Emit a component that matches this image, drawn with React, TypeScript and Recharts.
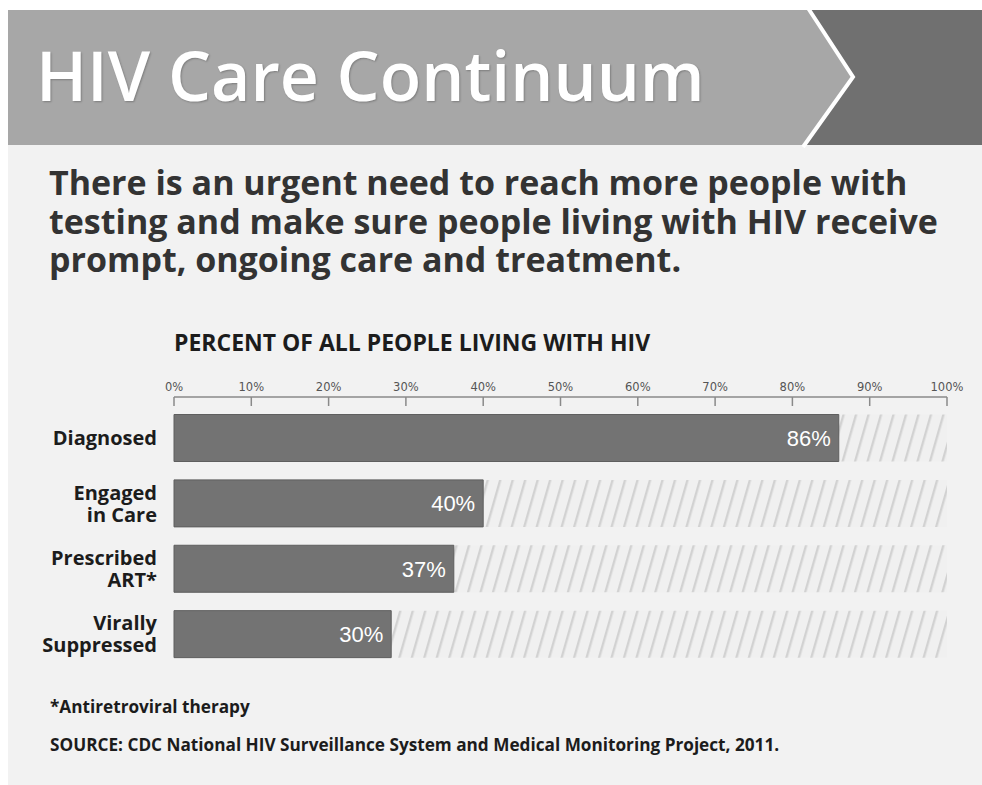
import React from 'react';
import { Bar, BarChart, LabelList, XAxis, YAxis } from 'recharts';

const categories = ['Diagnosed', 'Engaged\nin Care', 'Prescribed\nART*', 'Virally\nSuppressed'];
// bar lengths as drawn in the picture (the printed labels are rounded differently)
const barLengths = [86, 40, 36.2, 28.1];
const barLabels = ['86%', '40%', '37%', '30%'];
const xTicks = [0, 10, 20, 30, 40, 50, 60, 70, 80, 90, 100];

const subtitleLines = [
  'There is an urgent need to reach more people with',
  'testing and make sure people living with HIV receive',
  'prompt, ongoing care and treatment.',
];

const data = categories.map((name, i) => ({ name, value: barLengths[i], label: barLabels[i] }));

const FONT = '"Open Sans", "DejaVu Sans", sans-serif';

function CategoryTick({ x, y, payload }: { x?: number; y?: number; payload?: { value: string } }) {
  if (x == null || y == null || !payload) return null;
  const lines = String(payload.value).split('\n');
  const lh = 22;
  const start = -((lines.length - 1) * lh) / 2;
  return (
    <text x={x} y={y} textAnchor="end" fontFamily={FONT} fontWeight={700} fontSize={20} fill="#1c1c1c">
      {lines.map((l, i) => (
        <tspan key={i} x={x} y={y + start + i * lh} dy="0.35em">
          {l}
        </tspan>
      ))}
    </text>
  );
}

const textBase: React.CSSProperties = {
  position: 'absolute',
  fontFamily: FONT,
  fontWeight: 700,
  color: '#1c1c1c',
  whiteSpace: 'nowrap',
};

export default function App() {
  return (
    <div style={{ position: 'absolute', left: 0, top: 0, width: 982, height: 785, background: '#fff', overflow: 'hidden' }}>
      {/* panel */}
      <div style={{ position: 'absolute', left: 8, top: 10, width: 974, height: 775, background: '#f2f2f2' }} />
      {/* header band with chevron */}
      <svg width={982} height={785} style={{ position: 'absolute', left: 0, top: 0 }}>
        <rect x={8} y={10} width={974} height={135} fill="#a7a7a7" />
        <polygon points="808,10 982,10 982,145 803,145 853,77" fill="#707070" />
        <polyline points="808,8 853,77 803,147" fill="none" stroke="#ffffff" strokeWidth={4} />
      </svg>
      <div
        style={{
          ...textBase,
          left: 36,
          top: 30,
          fontWeight: 600,
          fontSize: 68,
          color: '#fff',
          lineHeight: '90px',
          textShadow: '1px 1px 2px rgba(0,0,0,0.25)',
        }}
      >
        HIV Care Continuum
      </div>
      <div style={{ ...textBase, left: 49, top: 163, fontSize: 34, color: '#333', lineHeight: '38.5px' }}>
        {subtitleLines.map((l) => (
          <div key={l}>{l}</div>
        ))}
      </div>
      <div style={{ ...textBase, left: 174, top: 327, fontSize: 23, lineHeight: '30px' }}>
        PERCENT OF ALL PEOPLE LIVING WITH HIV
      </div>
      <div style={{ ...textBase, left: 50, top: 694, fontSize: 17.2, lineHeight: '26px' }}>*Antiretroviral therapy</div>
      <div style={{ ...textBase, left: 50, top: 732, fontSize: 17.2, lineHeight: '26px' }}>
        SOURCE: CDC National HIV Surveillance System and Medical Monitoring Project, 2011.
      </div>
      <div style={{ position: 'absolute', left: 0, top: 0 }}>
        <BarChart
          width={982}
          height={785}
          data={data}
          layout="vertical"
          margin={{ top: 367, right: 35, bottom: 118, left: 0 }}
        >
          <defs>
            <pattern id="hatch" patternUnits="userSpaceOnUse" width={12} height={12} patternTransform="rotate(16)">
              <rect x={0} y={0} width={12} height={12} fill="#f0f0f0" />
              <rect x={0} y={0} width={2.4} height={12} fill="#d2d2d2" />
            </pattern>
          </defs>
          <XAxis
            type="number"
            orientation="top"
            domain={[0, 100]}
            ticks={xTicks}
            interval={0}
            height={30}
            tickFormatter={(v: number) => `${v}%`}
            tickSize={-9}
            tickMargin={15}
            tick={{ fontSize: 11.5, fill: '#555', fontFamily: '"DejaVu Sans", sans-serif' }}
            axisLine={{ stroke: '#8a8a8a', strokeWidth: 1.5 }}
            tickLine={{ stroke: '#8a8a8a', strokeWidth: 1.5 }}
          />
          <YAxis
            type="category"
            dataKey="name"
            width={174}
            padding={{ top: 8.5, bottom: 0 }}
            axisLine={false}
            tickLine={false}
            tickSize={0}
            tickMargin={17}
            interval={0}
            tick={<CategoryTick />}
          />
          <Bar
            dataKey="value"
            barSize={47}
            fill="#737373"
            stroke="#5f5f5f"
            strokeWidth={1}
            background={{ fill: 'url(#hatch)' }}
            isAnimationActive={false}
          >
            <LabelList
              dataKey="label"
              position="insideRight"
              offset={8}
              fill="#ffffff"
              fontSize={22}
              fontWeight={500}
              fontFamily='"Liberation Sans", Arial, sans-serif'
            />
          </Bar>
        </BarChart>
      </div>
    </div>
  );
}
